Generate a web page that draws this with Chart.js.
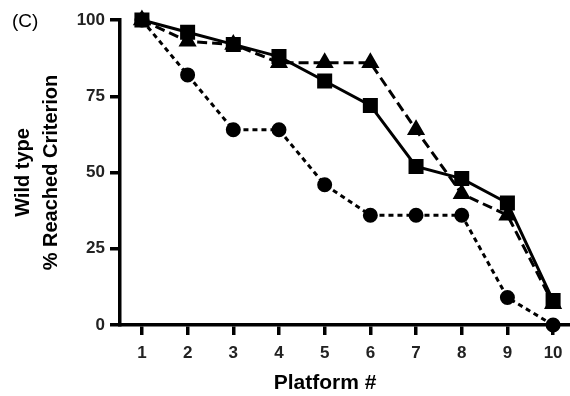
<!DOCTYPE html>
<html>
<head>
<meta charset="utf-8">
<script src="https://cdn.jsdelivr.net/npm/chart.js@4"></script>
<style>
  html, body { margin: 0; padding: 0; background: #fff; }
  #wrap { width: 570px; height: 396px; }
</style>
</head>
<body>
<div id="wrap"><canvas id="chart"></canvas></div>
<script>
// Platform numbers
const platforms = [1, 2, 3, 4, 5, 6, 7, 8, 9, 10];
// % reached criterion per group
const squares = [100, 96, 92, 88, 80, 72, 52, 48, 40, 8];
const triangles = [100, 93, 92, 86, 86, 86, 64, 43, 36, 7];
const circles = [100, 82, 64, 64, 46, 36, 36, 36, 9, 0];
const yTicks = [0, 25, 50, 75, 100];

const font = 'Liberation Sans, Arial, sans-serif';

function points(values) {
    return platforms.map((p, i) => ({ x: p, y: values[i] }));
}

// "(C)" panel label and the x axis title (placed off-centre like the original)
const extraText = {
    id: 'extraText',
    afterDraw(chart) {
        const ctx = chart.ctx;
        ctx.save();
        ctx.fillStyle = '#000';
        ctx.textBaseline = 'alphabetic';
        ctx.font = '19px ' + font;
        ctx.textAlign = 'left';
        ctx.fillText('(C)', 12, 27);
        ctx.font = 'bold 21px ' + font;
        ctx.textAlign = 'center';
        ctx.fillText('Platform #', 325, 389);
        ctx.restore();
    }
};

new Chart(document.getElementById('chart'), {
    type: 'line',
    data: {
        datasets: [
            {
                label: 'squares',
                data: points(squares),
                borderColor: '#000',
                backgroundColor: '#000',
                borderWidth: 3,
                pointStyle: 'rect',
                pointRadius: 8.5,
                clip: false
            },
            {
                label: 'triangles',
                data: points(triangles),
                borderColor: '#000',
                backgroundColor: '#000',
                borderWidth: 3,
                borderDash: [10, 5],
                pointStyle: 'triangle',
                pointRadius: 7.5,
                clip: false
            },
            {
                label: 'circles',
                data: points(circles),
                borderColor: '#000',
                backgroundColor: '#000',
                borderWidth: 3,
                borderDash: [5, 4],
                pointStyle: 'circle',
                pointRadius: 6,
                clip: false
            }
        ]
    },
    options: {
        responsive: true,
        maintainAspectRatio: false,
        animation: false,
        layout: {
            autoPadding: false,
            padding: { top: 20, right: 0, left: 0, bottom: 0 }
        },
        plugins: {
            legend: { display: false },
            tooltip: { enabled: false }
        },
        scales: {
            x: {
                type: 'linear',
                min: 0.52,
                max: 10.37,
                afterBuildTicks: scale => {
                    scale.ticks = platforms.map(v => ({ value: v }));
                },
                afterFit: scale => {
                    scale.height = 71;
                    scale.paddingLeft = 0;
                    scale.paddingRight = 0;
                },
                border: { display: true, color: '#000', width: 3.5 },
                grid: {
                    display: true,
                    drawOnChartArea: false,
                    drawTicks: true,
                    tickLength: 10,
                    color: '#000',
                    lineWidth: 3.5
                },
                ticks: {
                    color: '#222',
                    padding: 8,
                    maxRotation: 0,
                    font: { family: font, size: 17, weight: 'bold' }
                },
                title: { display: false }
            },
            y: {
                min: 0,
                max: 100,
                afterBuildTicks: scale => {
                    scale.ticks = yTicks.map(v => ({ value: v }));
                },
                afterFit: scale => {
                    scale.width = 120;
                    scale.paddingTop = 0;
                    scale.paddingBottom = 0;
                },
                border: { display: true, color: '#000', width: 3.5 },
                grid: {
                    display: true,
                    drawOnChartArea: false,
                    drawTicks: true,
                    tickLength: 10,
                    color: '#000',
                    lineWidth: 3.5
                },
                ticks: {
                    color: '#222',
                    padding: 5,
                    font: { family: font, size: 17, weight: 'bold' }
                },
                title: {
                    display: true,
                    text: ['Wild type', '% Reached Criterion'],
                    color: '#000',
                    padding: { top: 9, bottom: 0 },
                    font: { family: font, size: 20, weight: 'bold', lineHeight: 1.4 }
                }
            }
        }
    },
    plugins: [extraText]
});
</script>
</body>
</html>
